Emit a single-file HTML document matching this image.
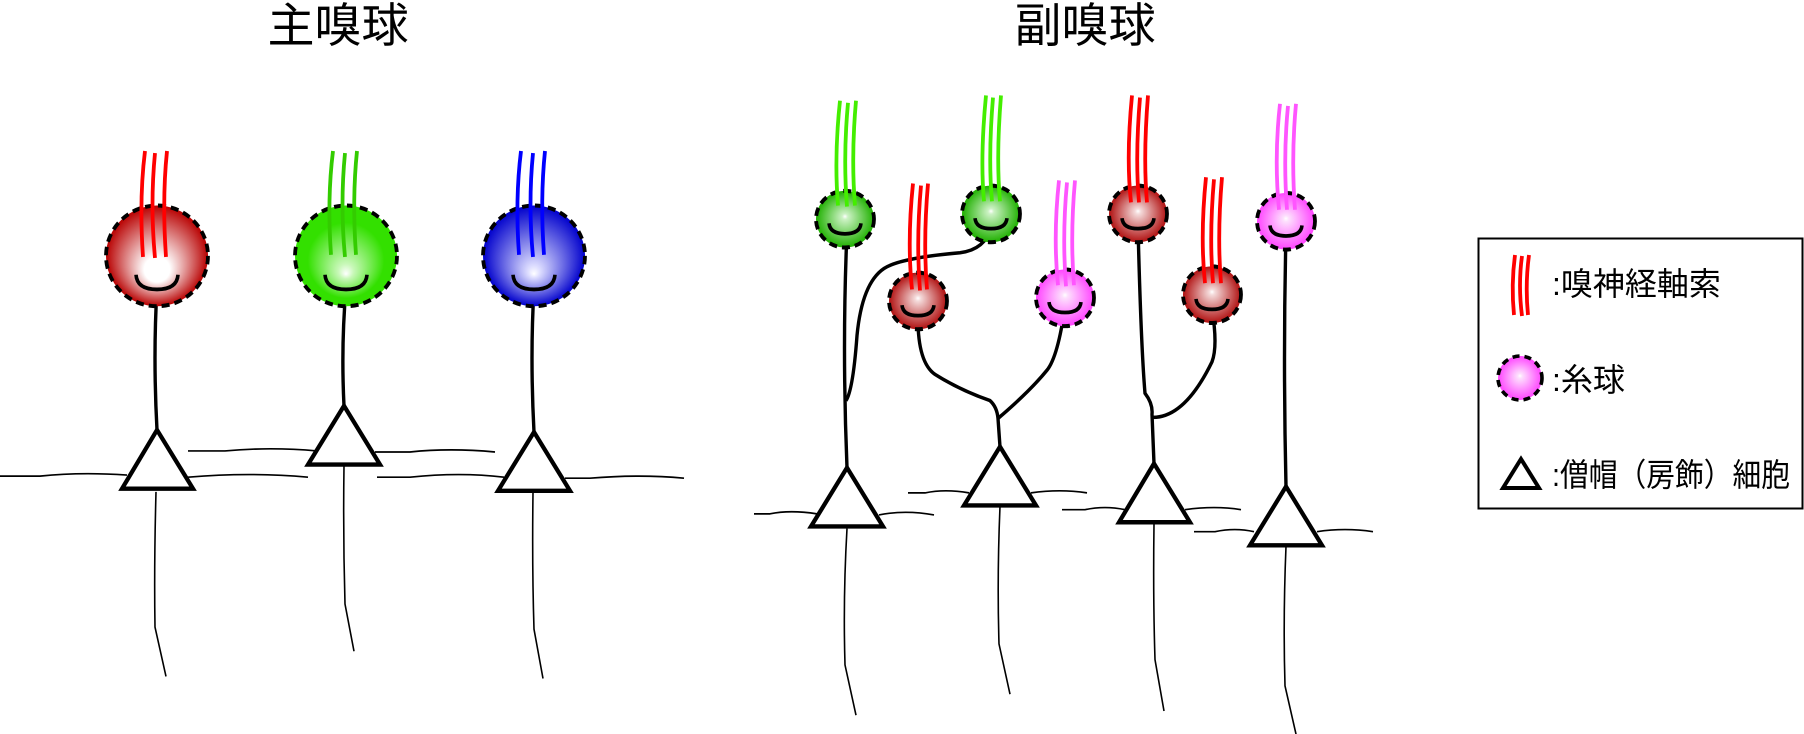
<!DOCTYPE html>
<html><head><meta charset="utf-8"><style>
html,body{margin:0;padding:0;background:#fff;}
svg{display:block;}
text{font-family:"Liberation Sans","Noto Sans CJK JP",sans-serif;fill:#000;}
</style></head><body>
<svg width="1804" height="734" viewBox="0 0 1804 734" xmlns="http://www.w3.org/2000/svg">
<defs>
<radialGradient id="gR" cx="0.5" cy="0.5" r="0.5" fx="0.5" fy="0.68"><stop offset="0" stop-color="#fff"/><stop offset="0.25" stop-color="#fff"/><stop offset="1" stop-color="#b80000"/></radialGradient>
<radialGradient id="gG" cx="0.5" cy="0.5" r="0.5" fx="0.5" fy="0.68"><stop offset="0" stop-color="#fff"/><stop offset="0.15" stop-color="#c8f8b8"/><stop offset="0.75" stop-color="#33e000"/><stop offset="1" stop-color="#33e000"/></radialGradient>
<radialGradient id="gB" cx="0.5" cy="0.5" r="0.5" fx="0.5" fy="0.68"><stop offset="0" stop-color="#fff"/><stop offset="0.12" stop-color="#ddddff"/><stop offset="1" stop-color="#0000cc"/></radialGradient>
<radialGradient id="aR" cx="0.5" cy="0.5" r="0.5" fx="0.5" fy="0.45"><stop offset="0" stop-color="#fff"/><stop offset="0.1" stop-color="#f4dada"/><stop offset="1" stop-color="#b01010"/></radialGradient>
<radialGradient id="aG" cx="0.5" cy="0.5" r="0.5" fx="0.5" fy="0.45"><stop offset="0" stop-color="#fff"/><stop offset="0.1" stop-color="#ccf2c4"/><stop offset="1" stop-color="#1fb000"/></radialGradient>
<radialGradient id="aP" cx="0.5" cy="0.5" r="0.5" fx="0.5" fy="0.45"><stop offset="0" stop-color="#fff"/><stop offset="0.1" stop-color="#fde0fd"/><stop offset="1" stop-color="#ff44ff"/></radialGradient>
</defs>

<text x="338" y="42" font-size="47" text-anchor="middle">主嗅球</text>
<text x="1085" y="42" font-size="47" text-anchor="middle">副嗅球</text>

<g transform="scale(1,1.0487)">
<g fill="none" stroke="#000" stroke-width="1.6">
<path d="M0,454 L40,454 Q80,450 127,453"/>
<path d="M188,455 Q250,450 308,455"/>
<path d="M188,430 L225,430 Q270,426 317,430"/>
<path d="M375,431 L410,431 Q450,427 495,431"/>
<path d="M377,455 L410,455 Q460,450 504,455"/>
<path d="M565,456 L590,456 Q640,452 684,456"/>
<path d="M754,490 L770,490 Q790,486 817,490"/>
<path d="M879,491 Q905,486 934,491"/>
<path d="M908,470 L925,470 Q945,466 969,470"/>
<path d="M1031,470 Q1060,466 1087,470"/>
<path d="M1062,486 L1085,486 Q1105,482 1125,486"/>
<path d="M1185,486 Q1215,482 1241,486"/>
<path d="M1194,507 L1215,507 Q1235,503 1254,507"/>
<path d="M1317,507 Q1345,503 1373,507"/>
<path d="M156,469 Q154,540 155,598 L166,645"/>
<path d="M344,444 Q343,510 345,576 L354,621"/>
<path d="M533,470 Q532,540 534,600 L543,647"/>
<path d="M847,504 Q843,570 845,634 L856,682"/>
<path d="M1000,483 Q997,550 999,614 L1010,662"/>
<path d="M1154,500 Q1153,570 1155,629 L1164,678"/>
<path d="M1286,521 Q1283,590 1285,654 L1296,700"/>
</g>

<g fill="none" stroke="#000" stroke-width="3.4">
<path d="M157,275 Q153,340 157,410"/>
<path d="M346,275 Q341,330 344,387"/>
<path d="M534,275 Q530,340 534,412"/>
<path d="M847,221 Q842,330 847,446"/>
<path d="M991,217 Q985,238 960,241 Q900,246 884,256 Q862,270 857,320 Q853,372 846,382"/>
<path d="M918,299 Q917,345 935,357 Q960,372 990,382 Q997,388 998,399 L1000,426"/>
<path d="M1065,292 Q1058,340 1047,353 Q1030,373 998,399"/>
<path d="M1138,216 Q1141,330 1145,375 Q1153,385 1152,395 L1154,442"/>
<path d="M1212,295 Q1218,330 1212,345 Q1185,398 1153,398"/>
<path d="M1286,223 Q1283,340 1286,464"/>
</g>

<g stroke="#000" stroke-width="3.8" stroke-dasharray="8,5">
<ellipse cx="157" cy="244" rx="51" ry="48" fill="url(#gR)"/>
<ellipse cx="346" cy="244" rx="51" ry="48" fill="url(#gG)"/>
<ellipse cx="534" cy="244" rx="51" ry="48" fill="url(#gB)"/>
<ellipse cx="845" cy="209" rx="29" ry="27" fill="url(#aG)"/>
<ellipse cx="991" cy="204" rx="29" ry="27" fill="url(#aG)"/>
<ellipse cx="918" cy="287" rx="29" ry="27" fill="url(#aR)"/>
<ellipse cx="1065" cy="284" rx="29" ry="27" fill="url(#aP)"/>
<ellipse cx="1138" cy="204" rx="29" ry="27" fill="url(#aR)"/>
<ellipse cx="1212" cy="281" rx="29" ry="27" fill="url(#aR)"/>
<ellipse cx="1286" cy="211" rx="29" ry="27" fill="url(#aP)"/>
</g>

<g fill="none" stroke="#000" stroke-width="3.6">
<path d="M136,262 Q137,276 157,276 Q177,276 178,262"/>
<path d="M325,262 Q326,276 346,276 Q366,276 367,262"/>
<path d="M513,262 Q514,276 534,276 Q554,276 555,262"/>
<path d="M829,213 Q830,223 845,223 Q860,223 861,213"/>
<path d="M975,208 Q976,218 991,218 Q1006,218 1007,208"/>
<path d="M902,291 Q903,301 918,301 Q933,301 934,291"/>
<path d="M1049,288 Q1050,298 1065,298 Q1080,298 1081,288"/>
<path d="M1122,208 Q1123,218 1138,218 Q1153,218 1154,208"/>
<path d="M1196,285 Q1197,295 1212,295 Q1227,295 1228,285"/>
<path d="M1270,215 Q1271,225 1286,225 Q1301,225 1302,215"/>
</g>

<g fill="none" stroke-width="3.8">
<g stroke="#ff0000"><path d="M145,144 Q139,190 143,245"/><path d="M155,146 Q150,195 155,246"/><path d="M167,144 Q162,190 166,245"/></g>
<g stroke="#33cc00"><path d="M333,144 Q327,190 331,243"/><path d="M345,146 Q340,195 345,245"/><path d="M357,144 Q352,190 356,243"/></g>
<g stroke="#0000ff"><path d="M521,144 Q515,190 519,243"/><path d="M533,146 Q528,195 533,245"/><path d="M545,144 Q540,190 544,243"/></g>
<g stroke="#44ee00"><path d="M840,96 Q834,150 838,196"/><path d="M848,98 Q843,150 847,197"/><path d="M856,96 Q851,150 855,196"/></g>
<g stroke="#44ee00"><path d="M986,91 Q980,150 984,192"/><path d="M993,93 Q988,150 992,192"/><path d="M1001,91 Q996,150 1000,192"/></g>
<g stroke="#ff0000"><path d="M913,175 Q907,230 912,276"/><path d="M921,177 Q916,230 920,277"/><path d="M928,175 Q923,230 927,276"/></g>
<g stroke="#ff55ff"><path d="M1059,172 Q1053,225 1058,272"/><path d="M1067,174 Q1062,225 1066,273"/><path d="M1075,172 Q1070,225 1074,272"/></g>
<g stroke="#ff0000"><path d="M1132,91 Q1126,150 1131,193"/><path d="M1140,93 Q1135,150 1139,193"/><path d="M1148,91 Q1143,150 1147,193"/></g>
<g stroke="#ff0000"><path d="M1206,169 Q1200,225 1205,270"/><path d="M1214,171 Q1209,225 1213,270"/><path d="M1222,169 Q1217,225 1221,270"/></g>
<g stroke="#ff55ff"><path d="M1280,99 Q1274,150 1279,200"/><path d="M1288,101 Q1283,150 1287,200"/><path d="M1296,99 Q1291,150 1295,200"/></g>
</g>

<g fill="#fff" stroke="#000" stroke-width="4.2" stroke-linejoin="miter">
<polygon points="157,410 193,466 122,466"/>
<polygon points="344,387 380,443 308,443"/>
<polygon points="534,412 570,468 498,468"/>
<polygon points="847,446 883,502 811,502"/>
<polygon points="1000,426 1036,482 964,482"/>
<polygon points="1154,442 1190,498 1119,498"/>
<polygon points="1286,464 1322,520 1250,520"/>
</g>
</g>

<rect x="1478.5" y="238.5" width="324" height="270" fill="none" stroke="#000" stroke-width="2"/>
<g fill="none" stroke="#ff0000" stroke-width="3.8">
<path d="M1515,255 Q1511,285 1514,315"/><path d="M1522,256 Q1518,285 1522,316"/><path d="M1529,255 Q1525,285 1528,315"/>
</g>
<text x="1552" y="295" font-size="32">:嗅神経軸索</text>
<circle cx="1520" cy="378" r="22" fill="url(#aP)" stroke="#000" stroke-width="3.6" stroke-dasharray="7,5"/>
<text x="1552" y="391" font-size="32">:糸球</text>
<polygon points="1521,459 1539,488 1503,488" fill="#fff" stroke="#000" stroke-width="4"/>
<text x="1552" y="486" font-size="32" textLength="238" lengthAdjust="spacingAndGlyphs">:僧帽（房飾）細胞</text>
</svg>
</body></html>
